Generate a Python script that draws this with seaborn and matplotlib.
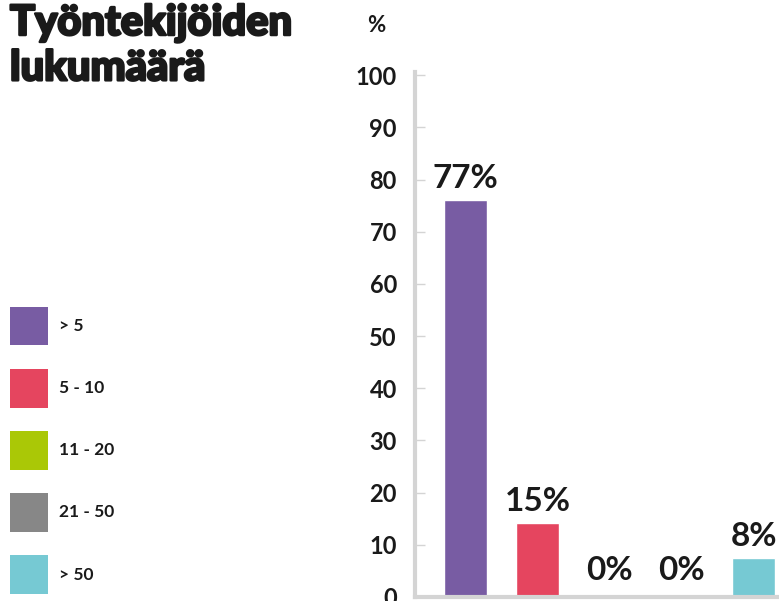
import matplotlib
matplotlib.use("Agg")
import matplotlib.pyplot as plt
import matplotlib.patheffects as pe
import seaborn as sns
import pandas as pd
from matplotlib.patches import Patch

categories = ["> 5", "5 - 10", "11 - 20", "21 - 50", "> 50"]
values = [76, 14.2, 0, 0, 7.5]
value_labels = ["77%", "15%", "0%", "0%", "8%"]
colors = ["#785ca3", "#e5455f", "#aac806", "#878787", "#76c9d3"]
yticks = [0, 10, 20, 30, 40, 50, 60, 70, 80, 90, 100]

sns.set_theme(style="white")
plt.rcParams["font.family"] = ["Lato", "DejaVu Sans"]

df = pd.DataFrame({"group": categories, "share": values})

fig = plt.figure(figsize=(7.79, 6.01), dpi=100)
ax = fig.add_axes([415 / 779, 4 / 601, 1 - 415 / 779, (597 - 72) / 601])

sns.barplot(data=df, x="group", y="share", hue="group", palette=colors,
            width=0.6, legend=False, ax=ax, saturation=1)

ax.set_xlim(-0.70, 4.354)
ax.set_ylim(0, 100.6)
ax.set_yticks(yticks)
ax.set_yticklabels([str(t) for t in yticks], fontsize=17, fontweight="bold", color="#1a1a1a")
ax.set_xticks([])
ax.set_xlabel("")
ax.set_ylabel("")

for side in ["top", "right"]:
    ax.spines[side].set_visible(False)
for side in ["left", "bottom"]:
    ax.spines[side].set_color("#d4d4d4")
    ax.spines[side].set_linewidth(3)
ax.tick_params(axis="y", direction="in", length=7, width=1, color="#d4d4d4", pad=13, left=True)

for i, (v, lab) in enumerate(zip(values, value_labels)):
    off = 9 if v == 0 else 5
    ax.annotate(lab, (i, v), xytext=(0, off), textcoords="offset points",
                ha="center", va="bottom", fontsize=24, fontweight="bold", color="#1a1a1a")

fig.text(10 / 779, 1 - 4 / 601, "Työntekijöiden\nlukumäärä", ha="left", va="top",
         fontsize=30, fontweight=900, color="#1a1a1a", linespacing=1.22,
         path_effects=[pe.withStroke(linewidth=1.8, foreground="#1a1a1a")])
fig.text(376 / 779, 1 - 26 / 601, "%", ha="center", va="center",
         fontsize=16, fontweight="bold", color="#1a1a1a")

handles = [Patch(facecolor=c, edgecolor="none") for c in colors]
leg = fig.legend(handles, categories, loc="upper left",
                 bbox_to_anchor=(10 / 779, 1 - 307 / 601), frameon=False,
                 borderpad=0, borderaxespad=0, handlelength=2.2, handleheight=3.03,
                 handletextpad=0.65, labelspacing=1.36,
                 prop={"size": 12.5, "weight": "bold"})
for t in leg.get_texts():
    t.set_color("#1a1a1a")

fig.savefig("out.png", dpi=100)
